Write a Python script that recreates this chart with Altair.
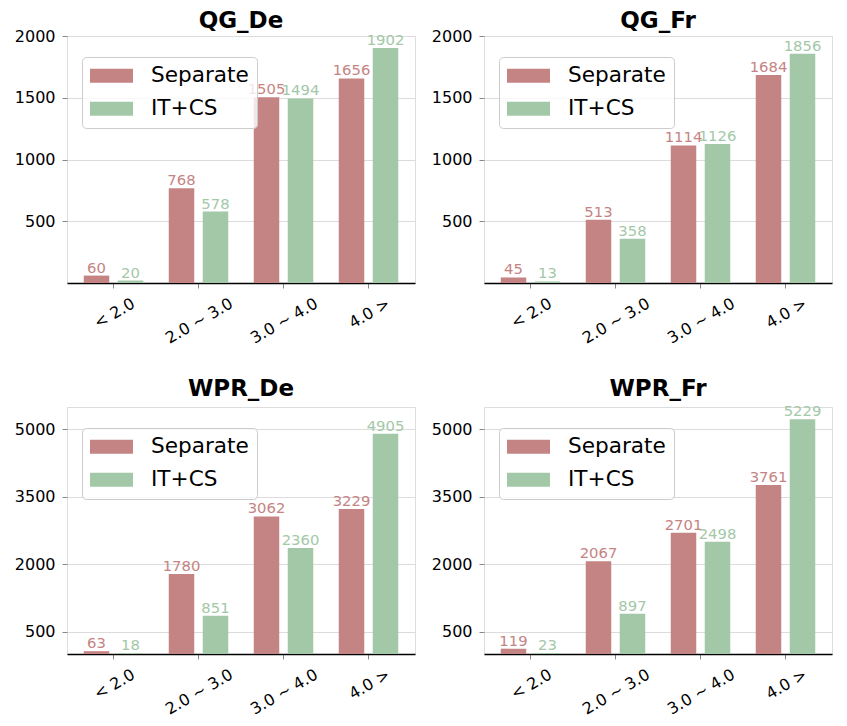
import altair as alt
import pandas as pd

categories = ["< 2.0", "2.0 ~ 3.0", "3.0 ~ 4.0", "4.0 >"]
series = ["Separate", "IT+CS"]
colors = ["#c58484", "#a3c8a8"]

qg_de_sep = [60, 768, 1505, 1656]
qg_de_itcs = [20, 578, 1494, 1902]
qg_fr_sep = [45, 513, 1114, 1684]
qg_fr_itcs = [13, 358, 1126, 1856]
wpr_de_sep = [63, 1780, 3062, 3229]
wpr_de_itcs = [18, 851, 2360, 4905]
wpr_fr_sep = [119, 2067, 2701, 3761]
wpr_fr_itcs = [23, 897, 2498, 5229]

qg_ticks = [500, 1000, 1500, 2000]
wpr_ticks = [500, 2000, 3500, 5000]

FONT = "DejaVu Sans"
W, H = 348, 247


def panel(title, sep, itcs, ymax, yticks, title_offset):
    rows = []
    for c, a, b in zip(categories, sep, itcs):
        rows.append({"cat": c, "series": series[0], "value": a})
        rows.append({"cat": c, "series": series[1], "value": b})
    df = pd.DataFrame(rows)

    x = alt.X("cat:N", sort=categories, title=None,
              scale=alt.Scale(paddingInner=0, paddingOuter=0.047),
              axis=alt.Axis(labelAngle=330, labelAlign="right", labelBaseline="top",
                            labelFontSize=16, labelFont=FONT, labelColor="black",
                            labelPadding=7, tickSize=5, tickColor="#888", tickWidth=1,
                            domainColor="black", domainWidth=1.3, grid=False,
                            labelOffset={"condition": {"test": "length(datum.label) > 6", "value": 29},
                                         "value": 16}))
    xo = alt.XOffset("series:N", sort=series,
                     scale=alt.Scale(paddingInner=0.25, paddingOuter=0.375))
    y = alt.Y("value:Q", title=None,
              scale=alt.Scale(domain=[0, ymax], nice=False, zero=True),
              axis=alt.Axis(values=yticks, format="d", domain=False, tickSize=5, tickColor="#888",
                            labelFontSize=16, labelFont=FONT, labelColor="black",
                            labelPadding=7, grid=True, gridColor="#dcdcdc", gridWidth=1.2))

    bars = alt.Chart(df).mark_bar().encode(
        x=x, xOffset=xo, y=y,
        color=alt.Color("series:N", sort=series,
                        scale=alt.Scale(domain=series, range=colors),
                        legend=alt.Legend(title=None, orient="none", legendX=15, legendY=21,
                                          padding=8, rowPadding=10, labelOffset=39.4,
                                          symbolType="M-1.543,-1L4.6,-1L4.6,1L-1.543,1Z",
                                          symbolSize=196, symbolStrokeWidth=0, symbolOpacity=1,
                                          labelFontSize=21.6, labelFont=FONT, labelColor="black",
                                          labelLimit=0, strokeColor="#cccccc",
                                          fillColor="rgba(255,255,255,0.8)", cornerRadius=4)),
    )
    labels = alt.Chart(df).mark_text(baseline="alphabetic", dy=-3, fontSize=14.8, font=FONT).encode(
        x=x, xOffset=xo, y=y,
        text=alt.Text("value:Q"),
        color=alt.condition(alt.datum.series == "Separate", alt.value(colors[0]), alt.value(colors[1])),
    )
    return alt.layer(bars, labels).properties(
        width=W, height=H,
        title=alt.TitleParams(title, fontSize=23, fontWeight="bold", font=FONT, color="black",
                              anchor="middle", frame="group", offset=title_offset),
    )


top = alt.hconcat(
    panel("QG_De", qg_de_sep, qg_de_itcs, 2000, qg_ticks, -5),
    panel("QG_Fr", qg_fr_sep, qg_fr_itcs, 2000, qg_ticks, -5),
    spacing=14,
).resolve_scale(color="independent").resolve_legend(color="independent")
bottom = alt.hconcat(
    panel("WPR_De", wpr_de_sep, wpr_de_itcs, 5500, wpr_ticks, 6),
    panel("WPR_Fr", wpr_fr_sep, wpr_fr_itcs, 5500, wpr_ticks, 3),
    spacing=14,
).resolve_scale(color="independent").resolve_legend(color="independent")

chart = alt.vconcat(top, bottom, spacing=30).resolve_scale(color="independent").resolve_legend(
    color="independent"
).properties(
    padding={"left": 5, "top": 1, "right": 5, "bottom": 5}
).configure_view(strokeWidth=0).configure(font=FONT)

chart.save("out.html", embed_options={"renderer": "svg", "actions": False})
